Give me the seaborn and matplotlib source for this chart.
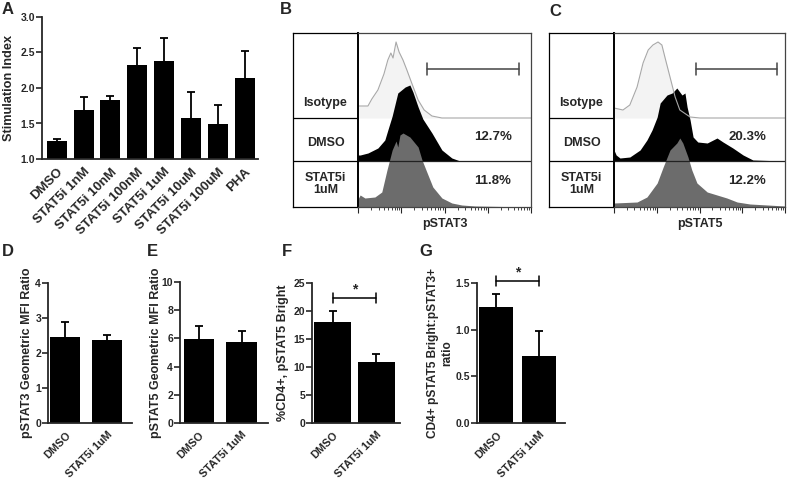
import numpy as np
import matplotlib
matplotlib.use('Agg')
import matplotlib.pyplot as plt
import seaborn as sns

# ---- data ----
# Panel A: stimulation index (mean + SEM)
a_groups = ['DMSO', 'STAT5i 1nM', 'STAT5i 10nM', 'STAT5i 100nM', 'STAT5i 1uM',
            'STAT5i 10uM', 'STAT5i 100uM', 'PHA']
a_means = [1.25, 1.69, 1.83, 2.32, 2.38, 1.58, 1.49, 2.14]
a_sem = [0.03, 0.19, 0.06, 0.24, 0.33, 0.36, 0.27, 0.38]

# Panels D-G: DMSO vs STAT5i 1uM
pair_groups = ['DMSO', 'STAT5i 1uM']
d_means = [2.45, 2.36]
d_sem = [0.45, 0.15]
e_means = [5.95, 5.75]
e_sem = [0.90, 0.75]
f_means = [18.0, 10.9]
f_sem = [2.0, 1.4]
g_means = [1.24, 0.72]
g_sem = [0.14, 0.27]

# Panels B/C: flow histograms (log10 fluorescence, relative count)
b_iso_x = [0.00, 0.23, 0.32, 0.46, 0.60, 0.69, 0.76, 0.81, 0.88, 0.95, 1.04, 1.13, 1.25, 1.39, 1.53, 1.71, 1.94, 4.00]
b_iso_y = [12, 12, 19, 28, 44, 58, 65, 60, 76, 66, 58, 48, 34, 18, 8, 2, 0, 0]
b_dmso_x = [0.00, 0.05, 0.23, 0.46, 0.62, 0.69, 0.79, 0.92, 1.09, 1.20, 1.27, 1.39, 1.50, 1.71, 1.94, 2.17, 2.36, 4.00]
b_dmso_y = [6, 6, 8, 13, 21, 31, 45, 68, 74, 76, 69, 54, 42, 28, 11, 3, 0, 0]
b_stat_x = [0.00, 0.05, 0.16, 0.39, 0.55, 0.67, 0.79, 0.88, 0.92, 0.97, 1.04, 1.20, 1.39, 1.48, 1.60, 1.73, 1.94, 2.17, 2.40, 2.71, 4.00]
b_stat_y = [8, 12, 9, 10, 15, 37, 57, 66, 60, 72, 74, 70, 60, 47, 34, 20, 9, 4, 2, 1, 0]

c_iso_x = [0.00, 0.21, 0.37, 0.54, 0.68, 0.80, 0.91, 1.03, 1.12, 1.19, 1.31, 1.43, 1.54, 1.78, 2.01, 4.00]
c_iso_y = [10, 8, 13, 31, 55, 68, 73, 76, 73, 61, 41, 21, 8, 1, 0, 0]
c_dmso_x = [0.00, 0.05, 0.14, 0.37, 0.61, 0.77, 0.89, 1.01, 1.08, 1.24, 1.36, 1.47, 1.59, 1.66, 1.71, 1.78, 1.85, 1.96, 2.18, 2.41, 2.55, 2.78, 3.02, 3.25, 4.00]
c_dmso_y = [11, 6, 3, 4, 11, 21, 31, 44, 58, 66, 68, 73, 66, 68, 54, 41, 24, 19, 18, 23, 19, 13, 6, 1, 0]
c_stat_x = [0.00, 0.54, 0.77, 1.01, 1.15, 1.31, 1.47, 1.54, 1.61, 1.73, 1.82, 1.94, 2.18, 2.41, 2.64, 2.88, 3.18, 4.00]
c_stat_y = [4, 5, 10, 24, 40, 57, 64, 69, 64, 50, 37, 24, 15, 12, 9, 5, 3, 1]

b_pct = ['12.7%', '11.8%']
c_pct = ['20.3%', '12.2%']
b_gate = [1.60, 3.72]
c_gate = [1.92, 3.81]
row_labels = ['Isotype', 'DMSO', 'STAT5i\n1uM']

# ---- style ----
sns.set_style('ticks')
plt.rcParams['font.family'] = ['Liberation Sans', 'DejaVu Sans']
plt.rcParams['font.weight'] = 'bold'
plt.rcParams['axes.labelweight'] = 'bold'

W, H = 787, 479
fig = plt.figure(figsize=(W / 100, H / 100), dpi=100)


def px_axes(l, t, r, b):
    return fig.add_axes([l / W, 1 - b / H, (r - l) / W, (b - t) / H])


def bar_panel(ax, cats, means, sems, width, ylim, yticks, yfmt, ylabel, xlim,
              xfs=7.8, ylfs=9, pad=2):
    sns.barplot(x=cats, y=means, color='black', width=width, errorbar=None,
                saturation=1, edgecolor='black', linewidth=0, ax=ax)
    n = len(cats)
    eb = ax.errorbar(range(n), means, yerr=[np.zeros(n), sems], fmt='none',
                     ecolor='black', elinewidth=1.3, capsize=3, capthick=1.3)
    # keep only the upper cap
    eb[1][0].set_visible(False)
    ax.set_ylim(*ylim)
    ax.set_xlim(*xlim)
    ax.set_yticks(yticks)
    ax.set_yticklabels([yfmt.format(v) for v in yticks])
    ax.set_xticks(range(n))
    ax.set_xticklabels(cats, rotation=45, ha='right', rotation_mode='anchor',
                       fontsize=xfs, fontweight='bold')
    ax.tick_params(axis='y', direction='out', length=4, width=1.2, labelsize=7.5, pad=1)
    ax.tick_params(axis='x', direction='out', length=0, pad=5)
    for s in ['left', 'bottom']:
        ax.spines[s].set_linewidth(1.3)
    sns.despine(ax=ax)
    ax.set_xlabel('')
    ax.set_ylabel(ylabel, fontsize=ylfs, fontweight='bold', labelpad=pad)


# Panel A
axA = px_axes(42, 17, 258, 159)
bar_panel(axA, a_groups, a_means, a_sem, 0.74, (1.0, 3.0),
          [1.0, 1.5, 2.0, 2.5, 3.0], '{:.1f}', 'Stimulation Index', (-0.55, 7.5),
          xfs=9.5, ylfs=9.2, pad=4)

# Panels D-G
axD = px_axes(48, 283, 132, 423)
bar_panel(axD, pair_groups, d_means, d_sem, 0.72, (0, 4), [0, 1, 2, 3, 4], '{:d}',
          'pSTAT3 Geometric MFI Ratio', (-0.42, 1.6), pad=2)
axE = px_axes(180, 282, 268, 423)
bar_panel(axE, pair_groups, e_means, e_sem, 0.72, (0, 10), [0, 2, 4, 6, 8, 10], '{:d}',
          'pSTAT5 Geometric MFI Ratio', (-0.45, 1.62), pad=0)
axF = px_axes(312, 283, 400, 423)
bar_panel(axF, pair_groups, f_means, f_sem, 0.86, (0, 25), [0, 5, 10, 15, 20, 25], '{:d}',
          '%CD4+, pSTAT5 Bright', (-0.48, 1.55), pad=3)
axG = px_axes(477, 283, 565, 423)
bar_panel(axG, pair_groups, g_means, g_sem, 0.8, (0, 1.5), [0.0, 0.5, 1.0, 1.5], '{:.1f}',
          'CD4+ pSTAT5 Bright:pSTAT3+\nratio', (-0.45, 1.6), ylfs=8.6, pad=2)

# significance brackets
for ax, yb, dy in [(axF, 22.3, 0.9), (axG, 1.52, 0.05)]:
    ax.plot([0, 1], [yb, yb], color='black', lw=1.1, clip_on=False)
    for xe in [0, 1]:
        ax.plot([xe, xe], [yb - dy, yb + dy], color='black', lw=1.1, clip_on=False)
    ax.text(0.5, yb + dy * 0.4, '*', ha='center', va='bottom', fontsize=10,
            fontweight='bold')


# Panels B/C: flow histograms
def flow_panel(lab_box, hist_box, iso, dmso, stat, pct, gate, xlab):
    axl = px_axes(*lab_box)
    axl.set_xlim(0, 1)
    axl.set_ylim(0, 174)
    axl.set_xticks([])
    axl.set_yticks([])
    for s in axl.spines.values():
        s.set_linewidth(0.9)
        s.set_color('black')
    axl.axhline(89, color='black', lw=0.9)
    axl.axhline(46, color='black', lw=0.9)
    for yv, txt in zip([104, 64, 23], row_labels):
        axl.text(0.5, yv, txt, ha='center', va='center', fontsize=9,
                 fontweight='bold', linespacing=1.1)

    axh = px_axes(*hist_box)
    axh.set_xscale('log')
    axh.set_xlim(1, 1e4)
    axh.set_ylim(0, 174)
    ix, iy = np.power(10.0, iso[0]), np.array(iso[1]) + 89
    axh.fill_between(ix, 89, iy, color='#f3f3f3', lw=0)
    axh.plot(ix, iy, color='#a8a8a8', lw=0.8)
    dx, dy = np.power(10.0, dmso[0]), np.array(dmso[1]) + 46
    axh.fill_between(dx, 46, dy, color='black', lw=0)
    axh.axhline(46, color='#222222', lw=0.9)
    sx, sy = np.power(10.0, stat[0]), np.array(stat[1])
    axh.fill_between(sx, 0, sy, color='#6c6c6c', lw=0)
    # gate
    g0, g1 = np.power(10.0, gate[0]), np.power(10.0, gate[1])
    axh.plot([g0, g1], [138, 138], color='#444444', lw=1.1)
    for gx in [g0, g1]:
        axh.plot([gx, gx], [132, 144], color='#444444', lw=1.1)
    axh.text(10 ** 3.12, 70, pct[0], ha='center', va='center', fontsize=9.5, fontweight='bold')
    axh.text(10 ** 3.12, 26, pct[1], ha='center', va='center', fontsize=9.5, fontweight='bold')
    axh.set_yticks([])
    axh.xaxis.set_major_locator(matplotlib.ticker.LogLocator(base=10, numticks=10))
    axh.xaxis.set_minor_locator(matplotlib.ticker.LogLocator(base=10, subs=np.arange(2, 10), numticks=10))
    axh.tick_params(axis='x', which='major', length=4, width=0.8, labelbottom=False, direction='out')
    axh.tick_params(axis='x', which='minor', length=2, width=0.6, direction='out')
    for s in ['top', 'right', 'bottom']:
        axh.spines[s].set_linewidth(0.9)
        axh.spines[s].set_color('#444444')
    axh.spines['left'].set_linewidth(1.4)
    axh.spines['left'].set_color('black')
    cx = (hist_box[0] + hist_box[2]) / 2
    fig.text(cx / W, 1 - 224 / H, xlab, ha='center', va='center', fontsize=9,
             fontweight='bold')


flow_panel((293, 33, 358, 207), (358, 33, 531, 207),
           (b_iso_x, b_iso_y), (b_dmso_x, b_dmso_y), (b_stat_x, b_stat_y),
           b_pct, b_gate, 'pSTAT3')
flow_panel((549, 33, 614, 207), (614, 33, 785, 207),
           (c_iso_x, c_iso_y), (c_dmso_x, c_dmso_y), (c_stat_x, c_stat_y),
           c_pct, c_gate, 'pSTAT5')

# panel letters
for lab, x, y in [('A', 2, 10), ('B', 280, 10), ('C', 549, 12),
                  ('D', 2, 251), ('E', 147, 251), ('F', 282, 251), ('G', 419, 251)]:
    fig.text(x / W, 1 - y / H, lab, ha='left', va='center', fontsize=12, fontweight='bold')

fig.savefig('out.png', dpi=100)
